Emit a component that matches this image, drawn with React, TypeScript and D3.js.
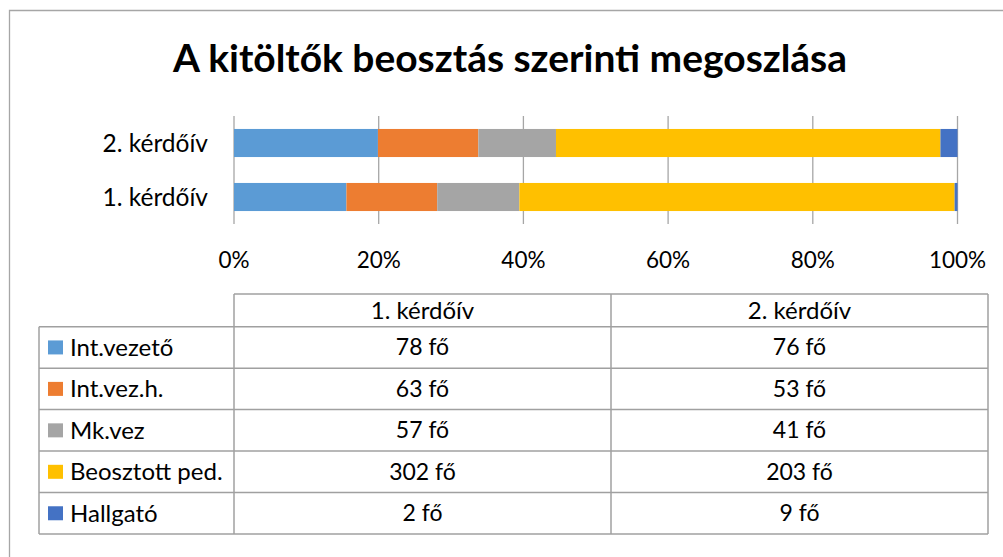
import React from "react";
import * as d3 from "d3";

const title = "A kitöltők beosztás szerinti megoszlása";
const surveys = ["1. kérdőív", "2. kérdőív"];
const roles = ["Int.vezető", "Int.vez.h.", "Mk.vez", "Beosztott ped.", "Hallgató"];
const survey1Counts = [78, 63, 57, 302, 2];
const survey2Counts = [76, 53, 41, 203, 9];
const roleColors = ["#5B9BD5", "#ED7D31", "#A5A5A5", "#FFC000", "#4472C4"];
const tickValues = [0, 0.2, 0.4, 0.6, 0.8, 1];
const unit = "fő";

const W = 1003;
const H = 557;
const FONT = "Lato, 'Open Sans', sans-serif";

export default function App() {
  const counts = [survey1Counts, survey2Counts];
  const rows = surveys.map((s, i) => {
    const r: any = { survey: s };
    roles.forEach((role, j) => (r[role] = counts[i][j]));
    return r;
  });
  const stack = d3.stack<any>().keys(roles).offset(d3.stackOffsetExpand);
  const series = stack(rows);

  const x = d3.scaleLinear().domain([0, 1]).range([234, 957.5]);
  const y = d3
    .scaleBand<string>()
    .domain(["2. kérdőív", "1. kérdőív"])
    .range([116, 224])
    .paddingInner(0.48)
    .paddingOuter(0.24);

  const gridColor = "#A6A6A6";
  const tableColor = "#A0A0A0";

  // table geometry
  const tLeft = 39;
  const c1 = 234;
  const c2 = 611;
  const tRight = 988;
  const headTop = 294;
  const headBottom = 326.7;
  const rowH = (534 - headBottom) / roles.length;
  const rowY = d3.range(roles.length + 1).map((i) => headBottom + i * rowH);
  const colCenters = [(c1 + c2) / 2, (c2 + tRight) / 2];

  return (
    <svg
      width={W}
      height={H}
      style={{ position: "absolute", left: 0, top: 0, background: "#fff" }}
      fontFamily={FONT}
    >
      <rect x={0} y={0} width={W} height={H} fill="#fff" />
      {/* outer chart border */}
      <path d={`M9.5,${H} V10.5 H${W}`} fill="none" stroke="#A6A6A6" strokeWidth={1.3} />

      <text
        x={510}
        y={72}
        textAnchor="middle"
        fontSize={38}
        fontWeight={700}
        fill="#000"
        textLength={674}
        lengthAdjust="spacingAndGlyphs"
      >
        {title}
      </text>

      {/* gridlines */}
      {tickValues.map((t) => (
        <line
          key={"g" + t}
          x1={x(t)}
          x2={x(t)}
          y1={116}
          y2={224}
          stroke={gridColor}
          strokeWidth={1.3}
        />
      ))}

      {/* bars */}
      {series.map((s, si) => (
        <g key={s.key} fill={roleColors[si]}>
          {s.map((d: any) => (
            <rect
              key={d.data.survey}
              x={x(d[0])}
              y={y(d.data.survey)}
              width={Math.max(0, x(d[1]) - x(d[0]))}
              height={y.bandwidth()}
            />
          ))}
        </g>
      ))}

      {/* category labels */}
      {surveys.map((s) => (
        <text
          key={"c" + s}
          x={208}
          y={(y(s) as number) + y.bandwidth() / 2}
          dy="0.35em"
          textAnchor="end"
          fontSize={24.5}
          fill="#000"
        >
          {s}
        </text>
      ))}

      {/* x tick labels */}
      {tickValues.map((t) => (
        <text
          key={"t" + t}
          x={x(t)}
          y={260}
          dy="0.35em"
          textAnchor="middle"
          fontSize={22.5}
          fill="#000"
        >
          {d3.format(".0%")(t)}
        </text>
      ))}

      {/* data table */}
      <g stroke={tableColor} strokeWidth={1.5} fill="none">
        <path d={`M${c1},${headTop} H${tRight}`} />
        {rowY.map((yy, i) => (
          <line key={"h" + i} x1={tLeft} x2={tRight} y1={yy} y2={yy} />
        ))}
        <line x1={tLeft} x2={tLeft} y1={headBottom} y2={rowY[rowY.length - 1]} />
        <line x1={c1} x2={c1} y1={headTop} y2={rowY[rowY.length - 1]} />
        <line x1={c2} x2={c2} y1={headTop} y2={rowY[rowY.length - 1]} />
        <line x1={tRight} x2={tRight} y1={headTop} y2={rowY[rowY.length - 1]} />
      </g>

      {surveys.map((s, i) => (
        <text
          key={"th" + s}
          x={colCenters[i]}
          y={(headTop + headBottom) / 2}
          dy="0.35em"
          textAnchor="middle"
          fontSize={24}
          fill="#000"
        >
          {s}
        </text>
      ))}

      {roles.map((role, j) => {
        const cy = (rowY[j] + rowY[j + 1]) / 2;
        return (
          <g key={"r" + role}>
            <rect x={48} y={cy - 7} width={15} height={14} fill={roleColors[j]} />
            <text x={70} y={cy} dy="0.35em" fontSize={24} fill="#000">
              {role}
            </text>
            {counts.map((c, i) => (
              <text
                key={i}
                x={colCenters[i]}
                y={cy}
                dy="0.35em"
                textAnchor="middle"
                fontSize={23}
                fill="#000"
              >
                {`${c[j]} ${unit}`}
              </text>
            ))}
          </g>
        );
      })}
    </svg>
  );
}
